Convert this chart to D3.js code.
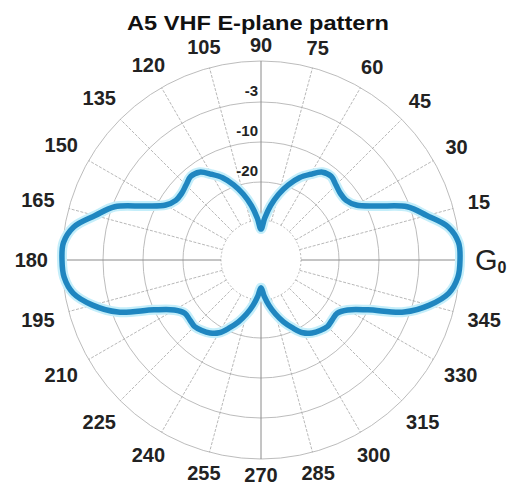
<!DOCTYPE html>
<html>
<head>
<meta charset="utf-8">
<script src="https://cdn.jsdelivr.net/npm/d3@7"></script>
<style>
  html, body { margin: 0; padding: 0; background: #fff; }
  svg { display: block; }
  text { font-family: "Liberation Sans", Arial, Helvetica, sans-serif; }
</style>
</head>
<body>
<svg id="chart" width="512" height="486"></svg>
<script>
// ---- data ----
const title = "A5 VHF E-plane pattern";
// angles in degrees (0 = right, counter-clockwise), every 5 degrees
const angles = d3.range(0, 360, 5);
// relative gain in dB
const gainDb = [
  0, -0.05, -0.65, -2.0, -3.4, -8.3, -12, -13.5, -13.6, -13, -12.2, -12.7, -14.75, -16.8, -19.5, -22.6, -26, -29.5,
  -32.4, -29.5, -26, -22.6, -19.5, -16.8, -14.75, -12.7, -12.2, -13, -13.6, -13.5, -12, -8.3, -3.4, -2.0, -0.65, -0.05,
  0, -0.1, -0.6, -1.8, -4, -10, -14.5, -16.25, -16.25, -16, -16.5, -17.25, -18.5, -20.8, -23.2, -25.8, -28.4, -31,
  -33.2, -31, -28.4, -25.8, -23.2, -20.8, -18.5, -17.25, -16.5, -16, -16.25, -16.25, -14.5, -10, -4, -1.8, -0.6, -0.1
];
// radial grid levels (dB) and the ones that carry labels
const ringLevels = [-30, -20, -10, -3, 0];
const ringLabels = ["-20", "-10", "-3"];
const ringLabelLevels = [-20, -10, -3];
// angular tick labels
const tickAngles = d3.range(0, 360, 15);
const tickLabels = tickAngles.map(a => String(a));

// ---- layout ----
const svg = d3.select("#chart");
const cx = 261, cy = 260;
const rScale = d3.scaleLinear()
  .domain([-30, -20, -10, -3, 0])
  .range([40, 78, 118, 158, 199]);
const toRad = d => (90 - d) * Math.PI / 180; // d3 radial angle

const g = svg.append("g").attr("transform", `translate(${cx},${cy})`);

// rings
g.selectAll("circle.ring").data(ringLevels).join("circle")
  .attr("class", "ring")
  .attr("r", d => rScale(d))
  .attr("fill", "none")
  .attr("stroke", "#b4b4b4")
  .attr("stroke-width", 0.9)
  .attr("stroke-dasharray", d => d === -30 ? "2,2" : null);

// spokes
const r0 = rScale(-30), r1 = rScale(0);
g.selectAll("line.spoke").data(tickAngles).join("line")
  .attr("class", "spoke")
  .attr("x1", d => r0 * Math.cos(d * Math.PI / 180))
  .attr("y1", d => -r0 * Math.sin(d * Math.PI / 180))
  .attr("x2", d => r1 * Math.cos(d * Math.PI / 180))
  .attr("y2", d => -r1 * Math.sin(d * Math.PI / 180))
  .attr("stroke", d => d % 90 === 0 ? "#8a8a8a" : "#a6a6a6")
  .attr("stroke-width", d => d % 90 === 0 ? 1 : 0.8)
  .attr("stroke-dasharray", d => d % 90 === 0 ? null : "3,1.5");

// pattern
const pts = angles.map((a, i) => [toRad(a), rScale(gainDb[i])]);
const line = d3.lineRadial().curve(d3.curveCatmullRomClosed.alpha(0.5));
g.append("path").attr("d", line(pts))
  .attr("fill", "none").attr("stroke", "#c4eefa").attr("stroke-width", 10)
  .attr("stroke-linejoin", "round");
g.append("path").attr("d", line(pts))
  .attr("fill", "none").attr("stroke", "#1f86c0").attr("stroke-width", 5.5)
  .attr("stroke-linejoin", "round");

// ring labels
g.selectAll("text.rl").data(ringLabelLevels).join("text")
  .attr("class", "rl")
  .attr("x", -3)
  .attr("y", d => -rScale(d) - 6)
  .attr("text-anchor", "end")
  .attr("font-size", 15)
  .attr("font-weight", "bold")
  .attr("fill", "#222")
  .text((d, i) => ringLabels[i]);

// angular labels
tickAngles.forEach((a, i) => {
  const t = g.append("text")
    .attr("font-size", 20)
    .attr("font-weight", "bold")
    .attr("fill", "#222")
    .attr("text-anchor", "middle")
    .attr("dominant-baseline", "central");
  if (a === 0) {
    t.attr("font-weight", "normal").attr("font-size", 29).attr("text-anchor", "start")
      .attr("x", r1 + 15).attr("y", 0);
    t.append("tspan").text("G");
    t.append("tspan").attr("font-size", 16).attr("font-weight", "bold").attr("dy", 7).text("0");
    return;
  }
  t.text(tickLabels[i]);
  const bb = t.node().getBBox();
  const rad = a * Math.PI / 180;
  const c = Math.cos(rad), s = Math.sin(rad);
  const R = r1 + 8 + (bb.width / 2 + 6) * Math.abs(c) + 8 * Math.abs(s);
  t.attr("x", R * c).attr("y", -R * s);
});

// title
svg.append("text")
  .attr("x", 258).attr("y", 30)
  .attr("text-anchor", "middle")
  .attr("font-size", 21)
  .attr("font-weight", "bold")
  .attr("fill", "#111")
  .attr("textLength", 262)
  .attr("lengthAdjust", "spacingAndGlyphs")
  .text(title);
</script>
</body>
</html>
